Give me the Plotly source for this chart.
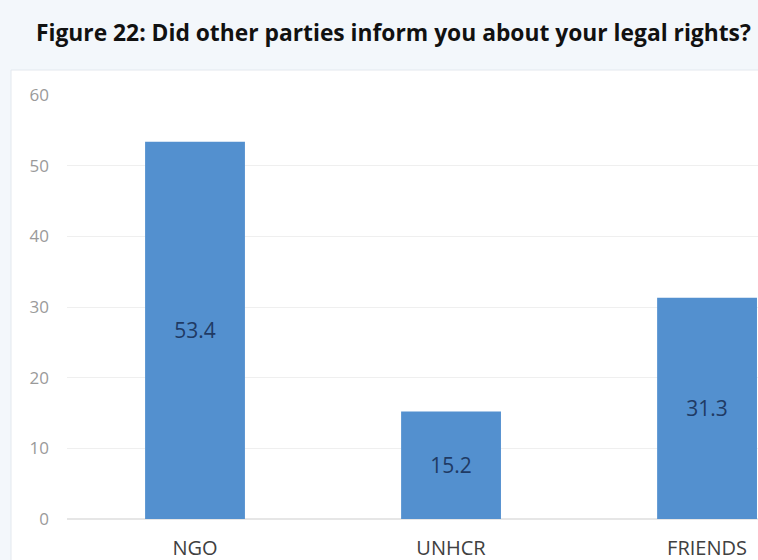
import plotly.graph_objects as go

categories = ["NGO", "UNHCR", "FRIENDS"]
values = [53.4, 15.2, 31.3]
y_ticks = [0, 10, 20, 30, 40, 50, 60]
title_text = "Figure 22: Did other parties inform you about your legal rights?"

fig = go.Figure()
fig.add_trace(go.Bar(
    x=categories, y=values,
    text=[f"{v:.1f}" for v in values],
    textposition="inside", insidetextanchor="middle",
    textfont=dict(family="Open Sans", size=21, color="#1f3a64"),
    marker=dict(color="#5390cf", line=dict(width=0)),
    width=0.39,
))

fig.update_layout(
    width=758, height=560,
    margin=dict(l=67, r=0, t=95, b=41),
    paper_bgcolor="#f3f7fb",
    plot_bgcolor="white",
    showlegend=False,
    uniformtext=dict(minsize=8, mode="show"),
    title=dict(text=title_text, x=36/758, xanchor="left", y=1-33/560, yanchor="middle",
               font=dict(family="Open Sans", size=22.8, color="#111111", weight="bold")),
    shapes=[dict(type="rect", xref="paper", yref="paper", x0=-56/691, x1=1.0,
                 y0=-41/424, y1=1+25/424, fillcolor="white", line=dict(width=0), layer="below"),
            dict(type="line", xref="paper", yref="paper", x0=-56/691, x1=-56/691,
                 y0=-41/424, y1=1+25/424, line=dict(color="#e3e8ee", width=1), layer="below"),
            dict(type="line", xref="paper", yref="paper", x0=-56/691, x1=1,
                 y0=1+25/424, y1=1+25/424, line=dict(color="#e3e8ee", width=1), layer="below")],
)
fig.update_xaxes(range=[-0.5, 2.199], showgrid=False, showline=False, ticks="",
                 ticklabelstandoff=15, automargin=False,
                 tickfont=dict(family="Open Sans", size=20, color="#404040"))
fig.update_yaxes(range=[0, 60], tickvals=y_ticks, showgrid=True, gridcolor="#efefef",
                 zeroline=True, zerolinecolor="#e6e6e6", showline=False, ticks="",
                 ticklabelstandoff=17, automargin=False,
                 tickfont=dict(family="Open Sans", size=17, color="#9a9a9a"))

fig.write_html("out.html", config={"displayModeBar": False},
               post_script="document.body.style.margin='0';")
